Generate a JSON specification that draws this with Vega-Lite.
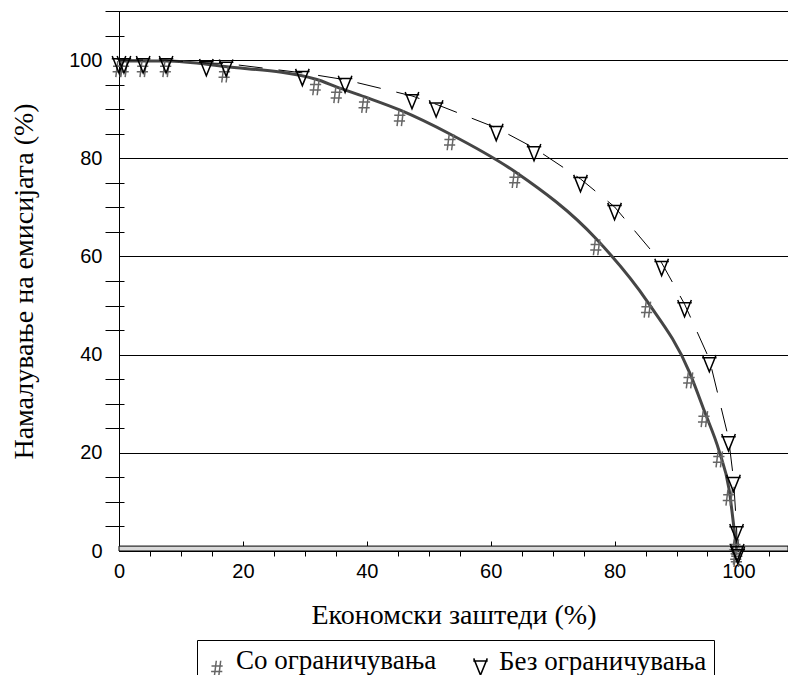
{
  "$schema": "https://vega.github.io/schema/vega-lite/v6.json",
  "width": 669,
  "height": 540,
  "autosize": {"type": "none"},
  "padding": {"left": 119, "top": 11, "right": 0, "bottom": 124},
  "background": "white",
  "config": {
    "view": {"stroke": "black", "strokeWidth": 1},
    "axis": {
      "labelFont": "Liberation Sans",
      "labelFontSize": 20,
      "labelColor": "black",
      "titleFont": "Liberation Serif",
      "titleFontSize": 28,
      "titleFontWeight": "normal",
      "titleColor": "black",
      "domainColor": "black",
      "tickColor": "black",
      "gridColor": "black",
      "domainWidth": 1,
      "tickWidth": 1,
      "labelOverlap": false,
      "labelFlush": false
    }
  },
  "data": {
    "values": [
      {"series": "Со ограничувања", "x": 0, "y": 99.8},
      {"series": "Со ограничувања", "x": 0.8, "y": 99.8},
      {"series": "Со ограничувања", "x": 3.9, "y": 99.8},
      {"series": "Со ограничувања", "x": 7.6, "y": 99.8},
      {"series": "Со ограничувања", "x": 17.1, "y": 98.7},
      {"series": "Со ограничувања", "x": 31.8, "y": 96.1},
      {"series": "Со ограничувања", "x": 35.2, "y": 94.5},
      {"series": "Со ограничувања", "x": 39.7, "y": 92.5},
      {"series": "Со ограничувања", "x": 45.4, "y": 89.8},
      {"series": "Со ограничувања", "x": 53.5, "y": 84.9},
      {"series": "Со ограничувања", "x": 64.0, "y": 77.2},
      {"series": "Со ограничувања", "x": 77.1, "y": 63.5},
      {"series": "Со ограничувања", "x": 85.3, "y": 50.8},
      {"series": "Со ограничувања", "x": 92.1, "y": 36.4},
      {"series": "Со ограничувања", "x": 94.5, "y": 28.5},
      {"series": "Со ограничувања", "x": 96.9, "y": 20.3},
      {"series": "Со ограничувања", "x": 98.5, "y": 12.5},
      {"series": "Со ограничувања", "x": 99.5, "y": 2.4},
      {"series": "Со ограничувања", "x": 99.7, "y": 0.5},
      {"series": "Со ограничувања", "x": 99.8, "y": 0},
      {"series": "Без ограничувања", "x": 0, "y": 100},
      {"series": "Без ограничувања", "x": 0.8, "y": 100},
      {"series": "Без ограничувања", "x": 3.9, "y": 100},
      {"series": "Без ограничувања", "x": 7.6, "y": 100},
      {"series": "Без ограничувања", "x": 14.1, "y": 99.4},
      {"series": "Без ограничувања", "x": 17.3, "y": 99.3},
      {"series": "Без ограничувања", "x": 29.6, "y": 97.4},
      {"series": "Без ограничувања", "x": 36.5, "y": 96.0},
      {"series": "Без ограничувања", "x": 47.3, "y": 92.7},
      {"series": "Без ограничувања", "x": 51.2, "y": 91.0},
      {"series": "Без ограничувања", "x": 60.9, "y": 86.2},
      {"series": "Без ограничувања", "x": 67.0, "y": 82.1},
      {"series": "Без ограничувања", "x": 74.5, "y": 75.8},
      {"series": "Без ограничувања", "x": 80.0, "y": 70.1},
      {"series": "Без ограничувања", "x": 87.6, "y": 58.7},
      {"series": "Без ограничувања", "x": 91.3, "y": 50.3},
      {"series": "Без ограничувања", "x": 95.3, "y": 39.1},
      {"series": "Без ограничувања", "x": 98.4, "y": 23.0},
      {"series": "Без ограничувања", "x": 99.2, "y": 14.7},
      {"series": "Без ограничувања", "x": 99.7, "y": 4.7},
      {"series": "Без ограничувања", "x": 99.8, "y": 0.6},
      {"series": "Без ограничувања", "x": 99.9, "y": 0}
    ]
  },
  "layer": [
    {
      "data": {"values": [{}]},
      "mark": {"type": "rect", "fill": "#d9d9d9", "stroke": "black", "strokeWidth": 1},
      "encoding": {
        "x": {
          "datum": 0, "type": "quantitative",
          "scale": {"domain": [0, 108], "nice": false, "zero": false},
          "axis": {
            "title": "Економски заштеди (%)",
            "values": [0,5,10,15,20,25,30,35,40,45,50,55,60,65,70,75,80,85,90,95,100,105],
            "tickSize": 5,
            "labelPadding": 5,
            "titlePadding": 20,
            "grid": false,
            "labelExpr": "datum.value % 20 === 0 ? datum.label : ''",
            "tickOpacity": {"condition": {"test": "datum.value % 20 === 0", "value": 0}, "value": 1}
          }
        },
        "x2": {"datum": 108},
        "y": {
          "datum": 0, "type": "quantitative",
          "scale": {"domain": [0, 110], "nice": false, "zero": false},
          "axis": {
            "title": "Намалување на емисијата (%)",
            "values": [0,5,10,15,20,25,30,35,40,45,50,55,60,65,70,75,80,85,90,95,100,105,110],
            "tickSize": 14,
            "labelPadding": 3,
            "titlePadding": 30,
            "grid": true,
            "gridOpacity": {"condition": {"test": "datum.value % 20 === 0 && datum.value > 0 && datum.value < 110", "value": 1}, "value": 0},
            "labelExpr": "datum.value % 20 === 0 && datum.value <= 100 ? datum.label : ''",
            "tickOpacity": {"condition": {"test": "datum.value % 20 === 0", "value": 0}, "value": 1}
          }
        },
        "y2": {"datum": 1}
      }
    },
    {
      "transform": [{"filter": "datum.series === 'Со ограничувања'"}],
      "mark": {"type": "line", "color": "#454545", "strokeWidth": 3, "interpolate": "monotone"},
      "encoding": {
        "x": {
          "field": "x", "type": "quantitative",
          "scale": {"domain": [0, 108], "nice": false, "zero": false},
          "axis": {
            "orient": "bottom", "title": null, "labels": false, "domain": false, "grid": false,
            "values": [5,10,15,25,30,35,45,50,55,65,70,75,85,90,95,105],
            "tickSize": -5
          }
        },
        "y": {
          "field": "y", "type": "quantitative",
          "scale": {"domain": [0, 110], "nice": false, "zero": false},
          "axis": {
            "orient": "left", "title": null, "labels": false, "domain": false, "grid": false,
            "values": [5,10,15,25,30,35,45,50,55,65,70,75,85,90,95,105,110],
            "tickSize": -5
          }
        }
      }
    },
    {
      "transform": [{"filter": "datum.series === 'Без ограничувања'"}],
      "mark": {"type": "line", "color": "black", "strokeWidth": 1, "strokeDash": [24, 16]},
      "encoding": {
        "x": {
          "field": "x", "type": "quantitative",
          "scale": {"domain": [0, 108], "nice": false, "zero": false},
          "axis": {
            "orient": "bottom", "title": null, "labels": false, "domain": false, "grid": false,
            "values": [20, 40, 60, 80, 100],
            "tickSize": -10
          }
        },
        "y": {
          "field": "y", "type": "quantitative",
          "scale": {"domain": [0, 110], "nice": false, "zero": false},
          "axis": null
        }
      }
    },
    {
      "mark": {"type": "point", "filled": false, "size": 256, "strokeWidth": 1.5, "opacity": 1},
      "encoding": {
        "x": {
          "field": "x", "type": "quantitative",
          "scale": {"domain": [0, 108], "nice": false, "zero": false},
          "axis": null
        },
        "y": {
          "field": "y", "type": "quantitative",
          "scale": {"domain": [0, 110], "nice": false, "zero": false},
          "axis": null
        },
        "shape": {
          "field": "series", "type": "nominal",
          "scale": {
            "domain": ["Со ограничувања", "Без ограничувања"],
            "range": [
              "M-0.15,0 L-0.4,2 M0.4,0 L0.15,2 M-0.75,0.65 L0.65,0.65 M-0.8,1.35 L0.6,1.35",
              "M-0.85,-0.5 L0,1.6 L0.85,-0.5 M-0.9,-0.16 L0.9,-0.16"
            ]
          },
          "legend": {
            "title": null,
            "orient": "none",
            "legendX": 78,
            "legendY": 629,
            "direction": "horizontal",
            "strokeColor": "black",
            "fillColor": "white",
            "padding": 7,
            "labelFont": "Liberation Serif",
            "labelFontSize": 27,
            "labelColor": "black",
            "labelLimit": 400,
            "labelOffset": 5,
            "columnPadding": 30,
            "symbolSize": 256,
            "symbolStrokeWidth": 1.5
          }
        },
        "color": {
          "field": "series", "type": "nominal",
          "scale": {
            "domain": ["Со ограничувања", "Без ограничувања"],
            "range": ["#666666", "#000000"]
          },
          "legend": {
            "title": null,
            "orient": "none",
            "legendX": 78,
            "legendY": 629,
            "direction": "horizontal",
            "strokeColor": "black",
            "fillColor": "white",
            "padding": 7,
            "labelFont": "Liberation Serif",
            "labelFontSize": 27,
            "labelColor": "black",
            "labelLimit": 400,
            "labelOffset": 5,
            "columnPadding": 30,
            "symbolSize": 256,
            "symbolStrokeWidth": 1.5
          }
        }
      }
    }
  ],
  "resolve": {"axis": {"x": "independent", "y": "independent"}}
}
